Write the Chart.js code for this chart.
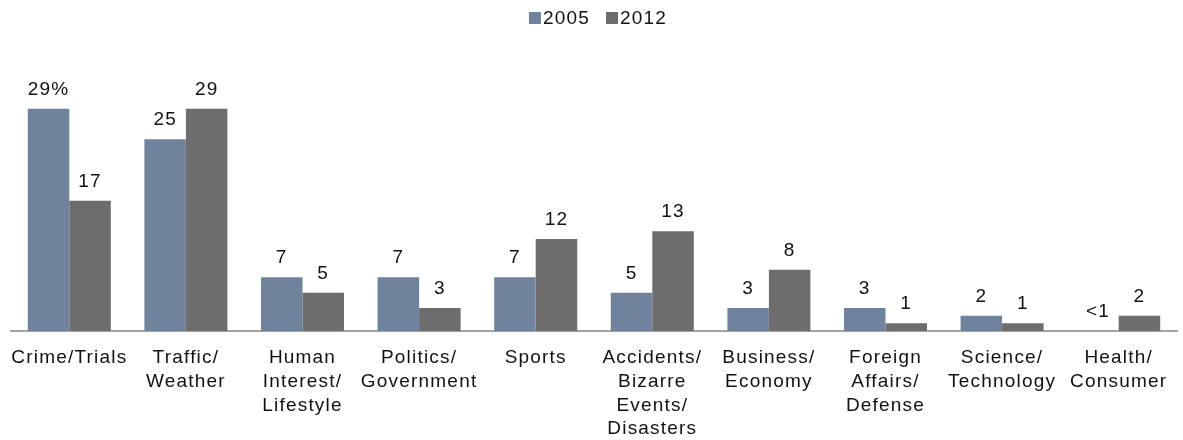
<!DOCTYPE html>
<html lang="en">
<head>
    <meta charset="UTF-8">
    <title>News Topics 2005 vs 2012</title>
    <script src="https://cdn.jsdelivr.net/npm/chart.js"></script>
    <style>
        body {
            margin: 0;
            background-color: #ffffff;
        }

        #wrap {
            width: 1183px;
            height: 440px;
        }
    </style>
</head>
<body>
    <div id="wrap">
        <canvas id="newsChart"></canvas>
    </div>

    <script>
        // Categories (multi-line tick labels)
        const categories = [
            ['Crime/Trials'],
            ['Traffic/', 'Weather'],
            ['Human', 'Interest/', 'Lifestyle'],
            ['Politics/', 'Government'],
            ['Sports'],
            ['Accidents/', 'Bizarre', 'Events/', 'Disasters'],
            ['Business/', 'Economy'],
            ['Foreign', 'Affairs/', 'Defense'],
            ['Science/', 'Technology'],
            ['Health/', 'Consumer']
        ];

        // Percent of stories (Health 2005 is "<1")
        const values2005 = [29, 25, 7, 7, 7, 5, 3, 3, 2, 0];
        const values2012 = [17, 29, 5, 3, 12, 13, 8, 1, 1, 2];

        const seriesNames = ['2005', '2012'];
        const seriesColors = ['#6f849c', '#6e6c6c'];

        const FONT = "'Liberation Sans', Arial, sans-serif";
        const FONT_SIZE = 19;
        const TEXT_COLOR = '#111111';
        const SPACING = '1.2px';

        function valueLabel(v, datasetIndex, index) {
            if (v < 1) return '<1';
            if (datasetIndex === 0 && index === 0) return v + '%';
            return String(v);
        }

        // Excel-like wide text
        const spacingPlugin = {
            id: 'spacing',
            beforeDraw(chart) {
                chart.ctx.letterSpacing = SPACING;
            }
        };

        // Numbers above the bars
        const barLabels = {
            id: 'barLabels',
            afterDatasetsDraw(chart) {
                const ctx = chart.ctx;
                ctx.save();
                ctx.font = FONT_SIZE + 'px ' + FONT;
                ctx.fillStyle = TEXT_COLOR;
                ctx.textAlign = 'center';
                ctx.textBaseline = 'alphabetic';
                ctx.letterSpacing = SPACING;
                chart.data.datasets.forEach((ds, di) => {
                    chart.getDatasetMeta(di).data.forEach((bar, i) => {
                        ctx.fillText(valueLabel(ds.data[i], di, i), bar.x, bar.y - 14);
                    });
                });
                ctx.restore();
            }
        };

        // Legend with the box right next to the text
        const tightLegend = {
            id: 'tightLegend',
            afterDraw(chart) {
                const ctx = chart.ctx;
                const box = 12, gap = 2, itemGap = 16;
                ctx.save();
                ctx.font = FONT_SIZE + 'px ' + FONT;
                ctx.letterSpacing = SPACING;
                ctx.textBaseline = 'middle';
                ctx.textAlign = 'left';
                const widths = chart.data.datasets.map(ds => box + gap + ctx.measureText(ds.label).width);
                const total = widths.reduce((a, b) => a + b, 0) + itemGap * (widths.length - 1);
                const area = chart.chartArea;
                let x = (area.left + area.right) / 2 + 4 - total / 2;
                const y = 18;
                chart.data.datasets.forEach((ds, i) => {
                    ctx.fillStyle = ds.backgroundColor;
                    ctx.fillRect(x, y - box / 2, box, box);
                    ctx.fillStyle = TEXT_COLOR;
                    ctx.fillText(ds.label, x + box + gap, y + 1);
                    x += widths[i] + itemGap;
                });
                ctx.restore();
            }
        };

        const ctx = document.getElementById('newsChart').getContext('2d');
        const newsChart = new Chart(ctx, {
            type: 'bar',
            data: {
                labels: categories,
                datasets: [
                    {
                        label: seriesNames[0],
                        data: values2005,
                        backgroundColor: seriesColors[0]
                    },
                    {
                        label: seriesNames[1],
                        data: values2012,
                        backgroundColor: seriesColors[1]
                    }
                ]
            },
            options: {
                responsive: true,
                maintainAspectRatio: false,
                animation: false,
                layout: {
                    // tick padding is reserved twice by the scale, take it back here
                    padding: { top: 101, left: 11, right: 6, bottom: -16 }
                },
                datasets: {
                    bar: {
                        categoryPercentage: 0.712,
                        barPercentage: 1.0
                    }
                },
                plugins: {
                    legend: { display: false },
                    tooltip: { enabled: false }
                },
                scales: {
                    y: {
                        display: false,
                        min: 0,
                        max: 30
                    },
                    x: {
                        grid: { display: false, drawTicks: false },
                        border: { display: true, color: '#a3a3a3', width: 2 },
                        ticks: {
                            padding: 15,
                            color: TEXT_COLOR,
                            maxRotation: 0,
                            autoSkip: false,
                            font: { family: FONT, size: FONT_SIZE, lineHeight: 1.25 }
                        }
                    }
                }
            },
            plugins: [spacingPlugin, barLabels, tightLegend]
        });
    </script>
</body>
</html>
